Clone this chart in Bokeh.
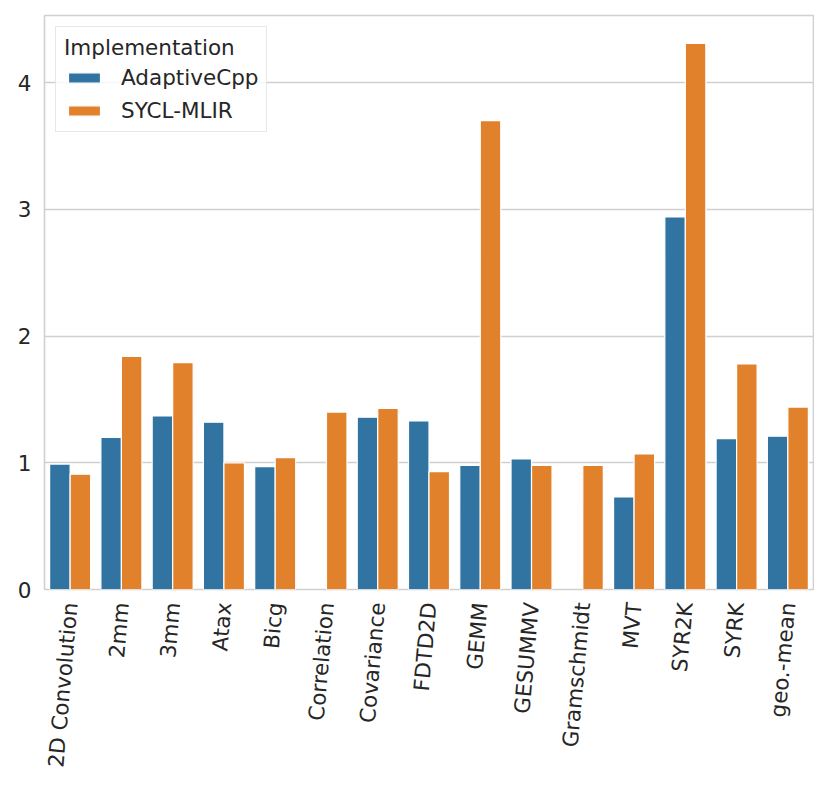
import numpy as np
from bokeh.plotting import figure
from bokeh.models import FixedTicker, Legend, LegendItem
from bokeh.embed import file_html
from bokeh.resources import INLINE

categories = ["2D Convolution", "2mm", "3mm", "Atax", "Bicg", "Correlation",
              "Covariance", "FDTD2D", "GEMM", "GESUMMV", "Gramschmidt", "MVT",
              "SYR2K", "SYRK", "geo.-mean"]
adaptivecpp = [0.99, 1.20, 1.37, 1.32, 0.97, np.nan, 1.36, 1.33, 0.98, 1.03,
               np.nan, 0.73, 2.94, 1.19, 1.21]
sycl_mlir = [0.91, 1.84, 1.79, 1.00, 1.04, 1.40, 1.43, 0.93, 3.70, 0.98,
             0.98, 1.07, 4.31, 1.78, 1.44]
series_names = ["AdaptiveCpp", "SYCL-MLIR"]
y_ticks = [0, 1, 2, 3, 4]

FONT = "DejaVu Sans"
TXT = "#262626"
GRID = "#d0d0d0"
FS = "21.5px"

p = figure(width=814, height=772, output_backend="svg", toolbar_location=None,
           x_range=(-0.5, len(categories) - 0.5), y_range=(0, 4.53),
           min_border_left=44, min_border_right=1, min_border_top=15,
           min_border_bottom=182)
p.background_fill_color = "white"
p.border_fill_color = "white"
p.outline_line_color = GRID
p.outline_line_width = 1.6

xs = np.arange(len(categories))
r1 = p.vbar(x=xs - 0.2, top=adaptivecpp, width=0.4, fill_color="#3274a1",
            line_color="white", line_width=1.2)
r2 = p.vbar(x=xs + 0.2, top=sycl_mlir, width=0.4, fill_color="#e1812c",
            line_color="white", line_width=1.2)

p.xgrid.visible = False
p.ygrid.grid_line_color = GRID
p.ygrid.grid_line_width = 1.6
p.ygrid.ticker = FixedTicker(ticks=y_ticks)

p.yaxis.ticker = FixedTicker(ticks=y_ticks)
p.xaxis.ticker = FixedTicker(ticks=list(range(len(categories))))
p.xaxis.major_label_overrides = {i: c for i, c in enumerate(categories)}
for ax in (p.xaxis[0], p.yaxis[0]):
    ax.axis_line_color = None
    ax.major_tick_line_color = None
    ax.minor_tick_line_color = None
    ax.major_tick_out = 0
    ax.major_tick_in = 0
    ax.minor_tick_out = 0
    ax.major_label_text_font = FONT
    ax.major_label_text_color = TXT
    ax.major_label_text_font_size = FS
p.yaxis.major_label_standoff = 13
p.xaxis.major_label_standoff = 13
p.xaxis.major_label_orientation = 85 * np.pi / 180

legend = Legend(items=[LegendItem(label=series_names[0], renderers=[r1]),
                       LegendItem(label=series_names[1], renderers=[r2])],
                location="top_left")
legend.title = "Implementation"
legend.title_text_font = FONT
legend.title_text_font_size = FS
legend.title_text_font_style = "normal"
legend.title_text_color = TXT
legend.title_standoff = 5
legend.label_text_font = FONT
legend.label_text_font_size = FS
legend.label_text_color = TXT
legend.glyph_width = 40
legend.glyph_height = 13
legend.label_height = 24
legend.label_standoff = 17
legend.spacing = 8
legend.padding = 8
legend.margin = 11
legend.border_line_color = GRID
legend.border_line_width = 1.3
legend.background_fill_color = "white"
legend.background_fill_alpha = 0.8
p.add_layout(legend)

open("out.html", "w").write(file_html(p, INLINE))
